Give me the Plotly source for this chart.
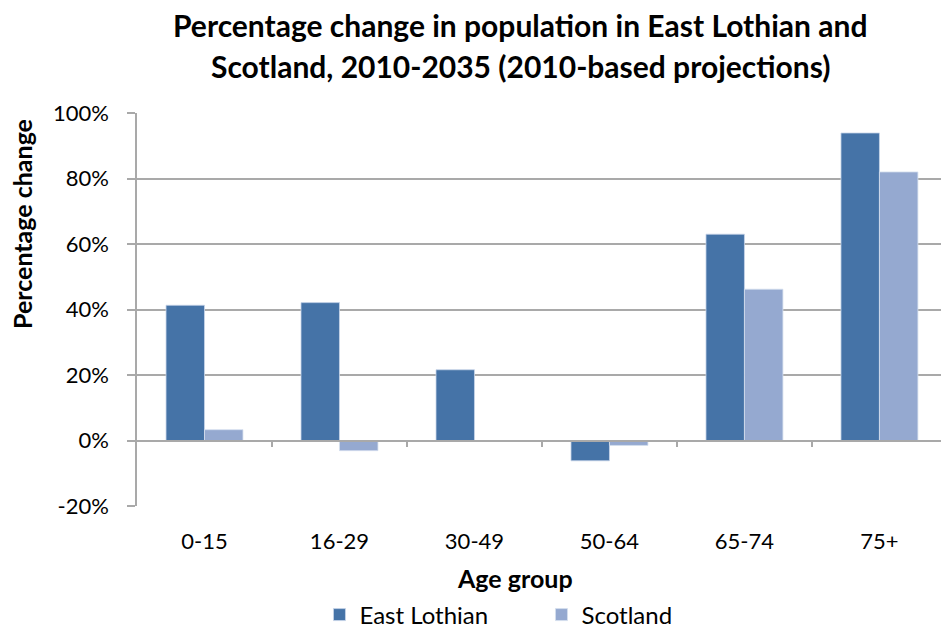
import plotly.graph_objects as go

categories = ["0-15", "16-29", "30-49", "50-64", "65-74", "75+"]
east_lothian = [41.3, 42.1, 21.6, -6.2, 63.0, 93.9]
scotland = [3.3, -3.1, 0.0, -1.5, 46.2, 82.0]
y_ticks = [-20, 0, 20, 40, 60, 80, 100]
y_tick_labels = ["-20%", "0%", "20%", "40%", "60%", "80%", "100%"]

FONT = "Lato, 'Open Sans', sans-serif"
GRID = "#A9A9A9"
W, H = 941, 628
ML, MR, MT, MB = 137, 0, 113, 122
PW, PH = W - ML - MR, H - MT - MB


def px2paper(px, py):
    return (px - ML) / PW, (H - MB - py) / PH


fig = go.Figure()
fig.add_trace(go.Bar(name="East Lothian", x=categories, y=east_lothian,
                     marker=dict(color="#4573A7", line=dict(color="#C9D6EA", width=0.8))))
fig.add_trace(go.Bar(name="Scotland", x=categories, y=scotland,
                     marker=dict(color="#95A9D0", line=dict(color="#D5DFEF", width=0.8))))
# helper trace so the zero-line axis is drawn
fig.add_trace(go.Scatter(x=[None], y=[None], xaxis="x2", showlegend=False, hoverinfo="skip"))

tx, ty1 = px2paper(520, 25)
_, ty2 = px2paper(520, 66)
yx, yy = px2paper(22, 224)
ax_, ay_ = px2paper(515, 578)

fig.update_layout(
    width=W, height=H,
    margin=dict(l=ML, r=MR, t=MT, b=MB, autoexpand=False),
    paper_bgcolor="white", plot_bgcolor="white",
    font=dict(family=FONT, size=22, color="black"),
    barmode="group", bargap=0.43, bargroupgap=0,
    xaxis=dict(type="category", range=[-0.5, 5.456], showgrid=False, showline=False,
               ticks="outside", ticklen=16, tickcolor="rgba(0,0,0,0)",
               tickfont=dict(size=22, family=FONT), zeroline=False),
    xaxis2=dict(overlaying="x", anchor="free", position=20/120, type="linear",
                range=[-0.5, 5.456], showgrid=False, showline=True, linecolor=GRID, linewidth=1.5,
                ticks="outside", ticklen=6, tickcolor=GRID, tickwidth=1.5,
                tickvals=[0.5, 1.5, 2.5, 3.5, 4.5], showticklabels=False, zeroline=False, side="bottom"),
    yaxis=dict(range=[-20, 100], tickvals=y_ticks, ticktext=y_tick_labels,
               showgrid=True, gridcolor=GRID, gridwidth=1.5,
               showline=True, linecolor=GRID, linewidth=1.5,
               ticks="outside", ticklen=8, tickcolor=GRID, tickwidth=1.5,
               ticklabelstandoff=14,
               zeroline=False, tickfont=dict(size=22, family=FONT)),
    legend=dict(orientation="h", x=0.3395, xanchor="left", xref="container",
                y=0.0207, yanchor="middle", yref="container",
                font=dict(size=24, family=FONT), entrywidth=177, entrywidthmode="pixels",
                bgcolor="rgba(0,0,0,0)"),
    annotations=[
        dict(text="<b>Percentage change in population in East Lothian and</b>", x=tx, y=ty1,
             xref="paper", yref="paper", showarrow=False, xanchor="center", yanchor="middle",
             font=dict(size=30, family=FONT)),
        dict(text="<b>Scotland, 2010-2035 (2010-based projections)</b>", x=tx, y=ty2,
             xref="paper", yref="paper", showarrow=False, xanchor="center", yanchor="middle",
             font=dict(size=30, family=FONT)),
        dict(text="<b>Percentage change</b>", x=yx, y=yy, xref="paper", yref="paper",
             showarrow=False, textangle=-90, xanchor="center", yanchor="middle",
             font=dict(size=25, family=FONT)),
        dict(text="<b>Age group</b>", x=ax_, y=ay_, xref="paper", yref="paper",
             showarrow=False, xanchor="center", yanchor="middle",
             font=dict(size=25, family=FONT)),
    ],
)

fig.write_html("out.html")
